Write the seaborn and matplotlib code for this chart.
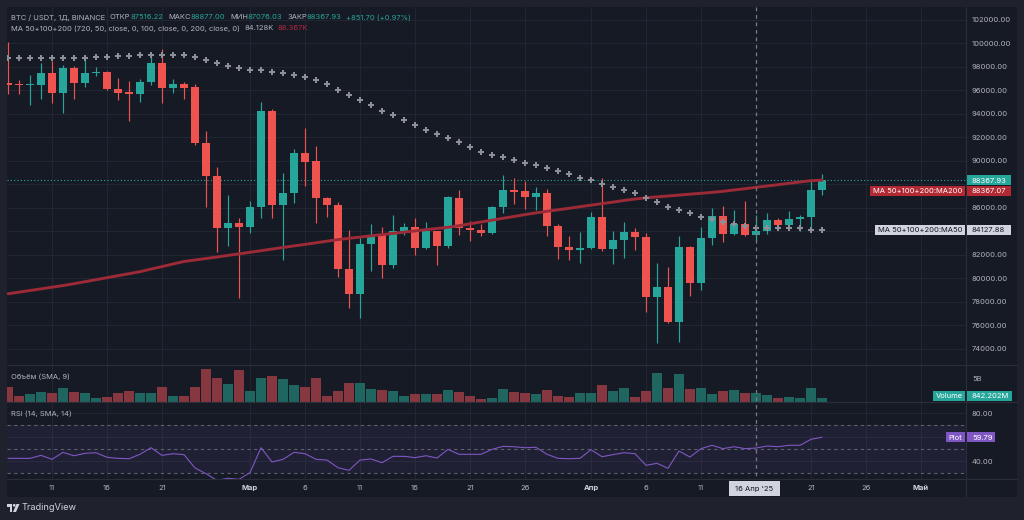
import numpy as np
import pandas as pd
import seaborn as sns
import matplotlib.pyplot as plt
from matplotlib.patches import Rectangle, Circle, Polygon
from matplotlib.lines import Line2D
from matplotlib.transforms import IdentityTransform

# ---- data (BTC/USDT daily, 7 Feb - 22 Apr 2025) ----
start = "2025-02-07"
opens = [96640, 96510, 96460, 96510, 97460, 95810, 97890, 96640, 97510, 97570,
         96130, 95850, 95730, 96700, 98340, 96190, 96580, 96270, 91560, 88720,
         84270, 84750, 84380, 86110, 94280, 86280, 87300, 90650, 89970, 86850,
         86280, 80780, 78650, 82960, 83700, 81150, 84020, 84360, 82620, 84020,
         82740, 86880, 84270, 84130, 83850, 86090, 87530, 87420, 86910, 87250,
         84470, 82680, 82430, 82570, 85210, 82540, 83250, 83930, 83530, 78450,
         79250, 76320, 82660, 79640, 83450, 85320, 83790, 84640, 83680, 84040,
         84980, 84530, 85090, 85210, 87516.22]
highs = [100150, 96890, 97320, 98370, 98510, 98170, 98080, 98820, 97970, 97690,
         97090, 96810, 96950, 99170, 99510, 96980, 96700, 96550, 92580, 89460,
         87110, 85170, 86600, 95050, 94430, 89000, 91050, 92830, 91300, 86960,
         86540, 84130, 83620, 84610, 84380, 85380, 84700, 85150, 84780, 84040,
         87020, 87530, 84890, 84610, 86170, 88810, 88580, 88320, 87790, 87590,
         84660, 83620, 83980, 85630, 88530, 84040, 84780, 84320, 83850, 81290,
         80950, 83620, 82770, 84360, 85970, 86170, 85830, 86570, 85400, 85550,
         85170, 85750, 85400, 88440, 88877.00]
lows = [95700, 95700, 94770, 95280, 94910, 94110, 95280, 96270, 97260, 96040,
        95190, 93400, 95050, 96470, 94910, 95810, 95280, 91360, 86110, 82280,
        82770, 78320, 83850, 85120, 85170, 81580, 86400, 87900, 84750, 85260,
        80100, 77520, 76660, 80640, 80020, 80870, 83680, 82000, 82490, 81180,
        82620, 83700, 83190, 83640, 83790, 85550, 86370, 85890, 85830, 83640,
        81690, 81580, 81350, 82490, 82340, 81260, 81720, 82430, 77170, 74540,
        76200, 74620, 78540, 79020, 82850, 83080, 83700, 83620, 83190, 83790,
        84320, 84270, 84020, 84210, 87076.03]
closes = [96510, 96460, 96530, 97460, 95810, 97890, 96640, 97510, 97570, 96130,
          95810, 95730, 96700, 98340, 96190, 96580, 96240, 91560, 88720, 84270,
          84750, 84380, 86110, 94280, 86280, 87300, 90650, 89940, 86820, 86280,
          80780, 78650, 82960, 83700, 81150, 84020, 84360, 82620, 84040, 82740,
          86910, 84270, 84130, 83850, 86110, 87530, 87390, 86910, 87250, 84470,
          82680, 82430, 82570, 85210, 82540, 83250, 83930, 83530, 78450, 79250,
          76320, 82660, 79640, 83450, 85320, 83790, 84640, 83680, 84040, 84980,
          84530, 85090, 85210, 87516, 88367.93]
ma50 = [98780, 98770, 98760, 98770, 98790, 98790, 98780, 98790, 98850, 98880,
        98920, 98960, 99010, 99060, 99060, 99030, 98990, 98876, 98595, 98340,
        98110, 97940, 97770, 97770, 97600, 97463, 97344, 97148, 96893, 96527,
        96068, 95591, 95191, 94766, 94281, 93915, 93489, 93064, 92638, 92298,
        91983, 91617, 91191, 90791, 90511, 90315, 90060, 89830, 89634, 89404,
        89149, 88868, 88579, 88358, 88043, 87762, 87532, 87234, 86877, 86536,
        86111, 85856, 85549, 85260, 85064, 84809, 84596, 84426, 84273, 84273,
        84273, 84324, 84273, 84100, 84127.88]
ma200 = [78700, 78835, 78980, 79116, 79260, 79397, 79558, 79728, 79899, 80069,
         80239, 80409, 80579, 80801, 81013, 81235, 81447, 81575, 81703, 81830,
         81967, 82094, 82230, 82367, 82503, 82639, 82775, 82903, 83039, 83175,
         83311, 83422, 83524, 83635, 83737, 83839, 83941, 84052, 84154, 84256,
         84358, 84494, 84656, 84809, 84962, 85124, 85277, 85439, 85583, 85719,
         85847, 85975, 86111, 86239, 86375, 86502, 86639, 86766, 86868, 86945,
         87021, 87098, 87175, 87251, 87328, 87421, 87532, 87643, 87762, 87872,
         87983, 88102, 88213, 88324, 88367.07]
volume_b = [3.16, 1.2, 1.55, 2.1, 1.9, 2.9, 2.04, 1.9, 0.84, 0.91,
            1.76, 2.32, 1.76, 1.83, 3.16, 1.2, 1.2, 3.0, 6.9, 4.9,
            3.66, 6.7, 2.25, 4.9, 5.35, 4.7, 3.5, 3.16, 5.1, 1.27,
            2.25, 3.87, 3.94, 2.67, 2.39, 2.32, 1.12, 1.69, 1.55, 1.62,
            2.46, 1.97, 1.2, 0.63, 0.84, 2.67, 2.1, 1.76, 1.62, 2.39,
            1.2, 0.98, 1.76, 1.83, 3.44, 2.32, 2.88, 0.91, 2.25, 6.05,
            2.81, 5.83, 2.74, 2.88, 1.69, 2.18, 2.46, 1.9, 1.83, 1.34,
            0.7, 0.98, 0.84, 2.88, 0.842]
rsi = [42.2, 42.2, 42.2, 44.7, 41.4, 47.2, 44.4, 46.4, 46.9, 43.1,
       42.2, 41.9, 45.6, 51.1, 44.7, 46.1, 45.3, 34.2, 29.4, 23.9,
       25.6, 24.7, 30.3, 51.1, 39.2, 41.4, 47.2, 46.1, 41.4, 40.8,
       34.4, 32.2, 40.8, 41.7, 38.6, 43.9, 43.9, 42.8, 44.4, 42.5,
       49.7, 45.6, 45.6, 45.6, 49.7, 52.2, 51.9, 51.1, 51.4, 45.6,
       42.2, 41.9, 42.2, 49.4, 43.6, 45.3, 46.9, 46.1, 36.4, 38.1,
       33.9, 48.3, 43.3, 50.3, 53.1, 50.3, 51.9, 50.3, 50.8, 52.5,
       51.9, 53.1, 53.1, 58.1, 59.79]

price_ticks = list(range(74000, 102001, 2000))
hidden_ticks = [84000, 88000]  # covered by the value tags on the price scale
tick_dates = ["2025-02-11", "2025-02-16", "2025-02-21", "2025-03-01", "2025-03-06",
              "2025-03-11", "2025-03-16", "2025-03-21", "2025-03-26", "2025-04-01",
              "2025-04-06", "2025-04-11", "2025-04-21", "2025-04-26", "2025-05-01"]
month_names = {3: "Мар", 4: "Апр", 5: "Май"}
cross_date = "2025-04-16"
cross_label = "16 Апр '25"

header1 = [("BTC / USDT, 1Д, BINANCE", "lab", 0), ("ОТКР", "lab", 3.4), ("87516.22", "up", 0),
           ("МАКС", "lab", 3.4), ("88877.00", "up", 0), ("МИН", "lab", 3.4), ("87076.03", "up", 0),
           ("ЗАКР", "lab", 3.4), ("88367.93", "up", 0), ("+851.70 (+0.97%)", "up", 3.4)]
header2 = [("MA 50+100+200 (720, 50, close, 0, 100, close, 0, 200, close, 0)", "lab", 0),
           ("84.128K", "lab", 3.0), ("88.367K", "ma", 3.0)]
vol_title = [("Объём (SMA, 9)", "lab", 0), ("842.202M", "up", 3.0)]
rsi_title = [("RSI (14, SMA, 14)", "lab", 0), ("59.79", "rsi", 3.0)]

# ---- style ----
W, H = 1024, 520
BG = "#161a25"
OUTER = "#1f222d"
GRID = "#222632"
SEP = "#2a2e39"
TXT = "#b2b5be"
UP = "#26a69a"
DOWN = "#ef5350"
MA_RED = "#9c2a37"
TAG_RED = "#b22833"
MA50_C = "#8d9099"
RSI_C = "#7e57c2"
LIGHT = "#d1d4dc"
FS = 5.45
colors = {"lab": TXT, "up": UP, "ma": "#b2283b", "rsi": RSI_C}

sns.set_style("dark", {"axes.facecolor": BG, "figure.facecolor": OUTER})
plt.rcParams["font.family"] = ["Inter", "DejaVu Sans"]

n = len(closes)
dates = pd.date_range(start, periods=n, freq="D")
df = pd.DataFrame({"pos": (dates - dates[0]).days, "open": opens, "high": highs,
                   "low": lows, "close": closes, "ma50": ma50, "ma200": ma200,
                   "vol": np.array(volume_b) * 1e9, "rsi": rsi})
df["up"] = df["close"] >= df["open"]
tick_pos = [(pd.Timestamp(d) - dates[0]).days for d in tick_dates]
tick_lab = [month_names[pd.Timestamp(d).month] if pd.Timestamp(d).day == 1 else str(pd.Timestamp(d).day)
            for d in tick_dates]
cross_pos = (pd.Timestamp(cross_date) - dates[0]).days

XMIN = -1 / 11
XMAX = XMIN + 959 / 11

fig = plt.figure(figsize=(W / 100, H / 100), dpi=100, facecolor=OUTER)
ident = IdentityTransform()


def px_rect(x0, y0, x1, y1, **kw):
    r = Rectangle((x0, H - y1), x1 - x0, y1 - y0, transform=ident, **kw)
    fig.add_artist(r)
    return r


def px_line(x0, y0, x1, y1, **kw):
    fig.add_artist(Line2D([x0, x1], [H - y0, H - y1], transform=ident, **kw))


def px_text(x, y, s, **kw):
    return fig.text(x, H - y, s, transform=ident, **kw)


def px_axes(x0, y0, x1, y1):
    ax = fig.add_axes([x0 / W, 1 - y1 / H, (x1 - x0) / W, (y1 - y0) / H])
    ax.set_facecolor(BG)
    for s in ax.spines.values():
        s.set_visible(False)
    ax.set_xlim(XMIN, XMAX)
    for t in tick_pos:
        ax.axvline(t, color=GRID, lw=0.8, zorder=0)
    return ax


px_rect(7, 7, 1017, 497, fc=BG, ec="none", zorder=-5)

ax_p = px_axes(7, 7, 966, 365)
ax_v = px_axes(7, 365, 966, 401.5)
ax_r = px_axes(7, 401.5, 966, 479)

# ---- price pane ----
ax_p.set_ylim(72638, 103106)
for v in price_ticks:
    ax_p.axhline(v, color=GRID, lw=0.8, zorder=0)
cols = np.where(df["up"], UP, DOWN)
ax_p.vlines(df["pos"], df["low"], df["high"], colors=cols, lw=0.85, zorder=2)
body = np.maximum((df["close"] - df["open"]).abs(), 85)
ax_p.bar(df["pos"], body, bottom=np.minimum(df["open"], df["close"]), width=0.8,
         color=cols, lw=0, zorder=3)
sns.lineplot(data=df, x="pos", y="ma200", ax=ax_p, color=MA_RED, lw=2.1, zorder=4)
sns.scatterplot(data=df, x="pos", y="ma50", ax=ax_p, marker="P", s=13, color=MA50_C,
                linewidth=0, zorder=4)
ax_p.axhline(closes[-1], color=UP, lw=0.8, ls=(0, (1, 2)), zorder=1)
ax_p.set_xlim(XMIN, XMAX)
ax_p.yaxis.tick_right()
ax_p.set_yticks(price_ticks)
ax_p.set_yticklabels(["" if v in hidden_ticks else f"{v:.2f}" for v in price_ticks])
ax_p.set_xticks([])
ax_p.tick_params(axis="y", length=0, pad=4.3, labelsize=FS, labelcolor=TXT)
ax_p.set_xlabel("")
ax_p.set_ylabel("")

# ---- volume pane ----
ax_v.set_ylim(0, 7.77e9)
vcols = np.where(df["up"], "#1f6660", "#86373f")
ax_v.bar(df["pos"], df["vol"], width=0.9, color=vcols, lw=0, zorder=2)
ax_v.yaxis.tick_right()
ax_v.set_yticks([5e9])
ax_v.set_yticklabels(["5B"])
ax_v.set_xticks([])
ax_v.tick_params(axis="y", length=0, pad=4.3, labelsize=FS, labelcolor=TXT)

# ---- RSI pane ----
ax_r.set_ylim(25, 89.6)
for v in (40, 60, 80):
    ax_r.axhline(v, color=GRID, lw=0.8, zorder=0)
ax_r.axhspan(30, 70, color=RSI_C, alpha=0.1, lw=0, zorder=1)
for v in (70, 50, 30):
    ax_r.axhline(v, color="#5d606b", lw=0.8, ls=(0, (3, 3)), zorder=2)
sns.lineplot(data=df, x="pos", y="rsi", ax=ax_r, color=RSI_C, lw=0.8, zorder=3)
ax_r.set_xlim(XMIN, XMAX)
ax_r.yaxis.tick_right()
ax_r.set_yticks([80, 40])
ax_r.set_yticklabels(["80.00", "40.00"])
ax_r.set_xticks(tick_pos)
ax_r.set_xticklabels(tick_lab)
ax_r.tick_params(axis="y", length=0, pad=4.3, labelsize=FS, labelcolor=TXT)
ax_r.tick_params(axis="x", length=0, pad=4.0, labelsize=FS, labelcolor=TXT)
ax_r.set_xlabel("")
ax_r.set_ylabel("")
for lab in ax_r.get_xticklabels():
    if lab.get_text() in month_names.values():
        lab.set_fontweight("bold")
        lab.set_color(LIGHT)

# ---- separators ----
for y in (365, 401.5, 479):
    px_line(7, y, 1017, y, color=SEP, lw=0.8, zorder=4)
px_line(966, 7, 966, 497, color=SEP, lw=0.8, zorder=4)

# ---- crosshair ----
cx = ax_p.transData.transform((cross_pos, 0))[0]
px_line(cx, 7, cx, 479, color="#787b86", lw=0.9, ls=(0, (3, 3)), zorder=5)
px_rect(cx - 27, 480.5, cx + 24, 495.5, fc=LIGHT, ec="none", zorder=6)
px_text(cx - 1.5, 488.5, cross_label, fontsize=FS, color="#131722", ha="center", va="center", zorder=7)


# ---- axis tags ----
def ypix(ax, v):
    return H - ax.transData.transform((0, v))[1]


def tag(y, text, fc, tc, x0, x1, center=False):
    px_rect(x0, y - 5, x1, y + 5, fc=fc, ec="none", zorder=6)
    if center:
        px_text((x0 + x1) / 2, y + 0.4, text, fontsize=FS, color=tc, ha="center", va="center", zorder=7)
    else:
        px_text(x0 + 5, y + 0.4, text, fontsize=FS, color=tc, ha="left", va="center", zorder=7)


y_last = ypix(ax_p, closes[-1])
tag(y_last, f"{closes[-1]:.2f}", UP, "white", 967, 1011)
y_m200 = ypix(ax_p, ma200[-1]) + 10.5
tag(y_m200, f"{ma200[-1]:.2f}", TAG_RED, "white", 967, 1011)
tag(y_m200, "MA 50+100+200:MA200", TAG_RED, "white", 870, 965, center=True)
y_m50 = ypix(ax_p, ma50[-1])
tag(y_m50, f"{ma50[-1]:.2f}", LIGHT, "#131722", 967, 1011)
tag(y_m50, "MA 50+100+200:MA50", LIGHT, "#131722", 875, 965, center=True)
y_vol = min(ypix(ax_v, volume_b[-1] * 1e9), 396)
tag(y_vol, "842.202M", UP, "white", 967, 1012)
tag(y_vol, "Volume", UP, "white", 933, 965, center=True)
y_rsi = ypix(ax_r, rsi[-1])
tag(y_rsi, f"{rsi[-1]:.2f}", RSI_C, "white", 967, 995)
tag(y_rsi, "Plot", RSI_C, "white", 946, 965, center=True)


# ---- legends / titles ----
def header(x, y, parts):
    s, c, _ = parts[0]
    t = px_text(x, y, s, fontsize=FS, color=colors[c], ha="left", va="center", zorder=7)
    for s, c, gap in parts[1:]:
        t = ax_p.annotate(s, xy=(1, 0.5), xycoords=t, xytext=(gap, 0), textcoords="offset points",
                          fontsize=FS, color=colors[c], ha="left", va="center",
                          annotation_clip=False, zorder=7)


header(11, 17.3, header1)
header(11, 28.3, header2)
header(11, 376.5, vol_title)
header(11, 413.3, rsi_title)

# ---- TradingView logo ----
px_rect(6.5, 504, 12, 506.5, fc=LIGHT, ec="none", zorder=7)
px_rect(9.5, 504, 12, 512, fc=LIGHT, ec="none", zorder=7)
fig.add_artist(Circle((14.2, H - 505.3), 1.4, transform=ident, fc=LIGHT, ec="none", zorder=7))
fig.add_artist(Polygon([(16.5, H - 504), (19.5, H - 504), (16, H - 512), (13, H - 512)],
                       closed=True, transform=ident, fc=LIGHT, ec="none", zorder=7))
px_text(22, 508, "TradingView", fontsize=6.6, color=LIGHT, ha="left", va="center", zorder=7)

fig.savefig("out.png", dpi=100, facecolor=OUTER)
